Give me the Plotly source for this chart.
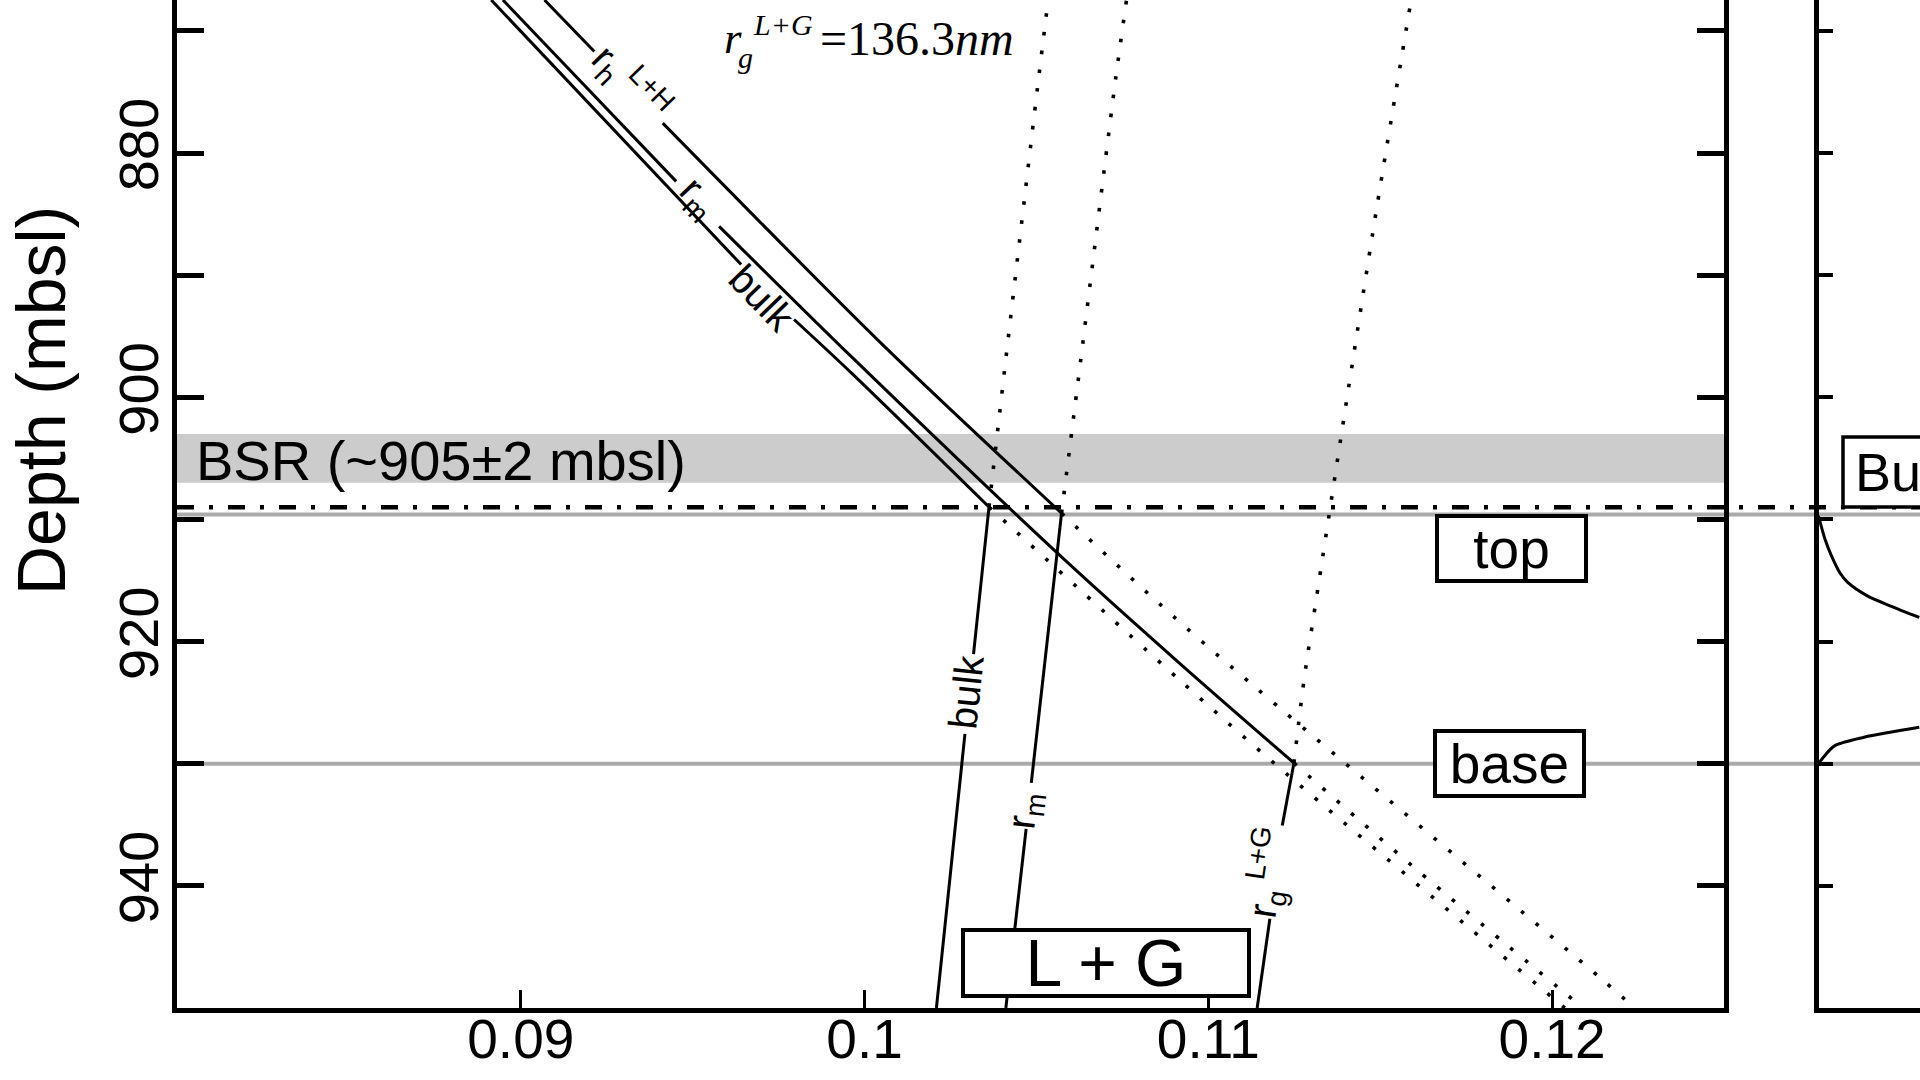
import plotly.graph_objects as go

# ---- values: x = value, d = depth (mbsl) ----
# L+H lines (solid part, None marks the gap where the label sits) and dotted extensions
bulk_lh_x = [0.08914, 0.09641, None, 0.09795, 0.09960, 0.10362]
bulk_lh_d = [867.47, 889.13, None, 893.63, 897.96, 908.98]
bulk_lh_ext_x = [0.10362, 0.10919, 0.11205, 0.12037]
bulk_lh_ext_d = [908.98, 923.21, 930.29, 950.0]

rm_lh_x = [0.08948, 0.09452, None, 0.09577, 0.09970, 0.10580, 0.10919, 0.11249]
rm_lh_d = [867.47, 882.32, None, 886.00, 896.90, 913.25, 921.84, 929.94]
rm_lh_ext_x = [0.11249, 0.11597, 0.12090]
rm_lh_ext_d = [929.94, 938.46, 950.0]

rh_lh_x = [0.09069, 0.09214, None, 0.09413, 0.10047, 0.10573]
rh_lh_d = [867.47, 871.69, None, 877.55, 895.54, 909.49]
rh_lh_ext_x = [0.10573, 0.10940, 0.12135, 0.12240]
rh_lh_ext_d = [909.49, 918.98, 947.41, 950.0]

# L+G lines
bulk_lg_x = [0.10362, 0.10317, None, 0.10292, 0.10209]
bulk_lg_d = [908.98, 921.02, None, 927.56, 950.0]
bulk_lg_ext_x = [0.10362, 0.10408, 0.10503, 0.10534]
bulk_lg_ext_d = [908.98, 897.58, 874.66, 867.47]

rm_lg_x = [0.10573, 0.10485, None, 0.10470, 0.10411]
rm_lg_d = [909.49, 931.57, None, 935.33, 950.0]
rm_lg_ext_x = [0.10573, 0.10629, 0.10730, 0.10762]
rm_lg_ext_d = [909.49, 896.90, 874.01, 867.47]

rg_lg_x = [0.11249, 0.11215, None, 0.11179, 0.11142]
rg_lg_d = [929.94, 935.06, None, 942.69, 950.0]
rg_lg_ext_x = [0.11249, 0.11280, 0.11314, 0.11396, 0.11489, 0.11590]
rg_lg_ext_d = [929.94, 922.80, 916.52, 901.40, 884.64, 867.47]

# right panel curves (only the left edge is visible)
p2_top_x = [0, 0.64, 1.28, 2.09, 2.88, 4.81, 7.05, 9.93]
p2_top_d = [909.7, 911.62, 912.98, 914.34, 915.16, 916.26, 917.07, 918.02]
p2_base_x = [0, 0.48, 1.61, 4.5, 9.93]
p2_base_d = [930.0, 929.47, 928.52, 927.83, 927.02]

# reference depths
bsr_band = [903.0, 907.0]
bsr_line = 909.0
top_depth = 909.6
base_depth = 930.0

x_ticks = [0.09, 0.1, 0.11, 0.12]
x_tick_text = ["0.09", "0.1", "0.11", "0.12"]
d_ticks = [870, 880, 890, 900, 910, 920, 930, 940]
d_tick_text = ["", "880", "", "900", "", "920", "", "940"]

W, H = 1920, 1080
SANS = "Liberation Sans, Arial, sans-serif"
SERIF = "Liberation Serif, Times New Roman, serif"


def P(px, py):
    return px / W, 1 - py / H


fig = go.Figure()


def line(x, y, dotted=False, xa="x", ya="y"):
    fig.add_trace(go.Scatter(
        x=x, y=y, mode="lines", xaxis=xa, yaxis=ya,
        line=dict(color="black", width=3.6 if dotted else 3.0,
                  dash="3.6px,15.4px" if dotted else "solid",
                  shape="spline", smoothing=0.8),
        connectgaps=False, hoverinfo="skip", showlegend=False))


for sx, sy in [(bulk_lh_x, bulk_lh_d), (rm_lh_x, rm_lh_d), (rh_lh_x, rh_lh_d),
               (bulk_lg_x, bulk_lg_d), (rm_lg_x, rm_lg_d), (rg_lg_x, rg_lg_d)]:
    line(sx, sy)
for sx, sy in [(bulk_lh_ext_x, bulk_lh_ext_d), (rm_lh_ext_x, rm_lh_ext_d),
               (rh_lh_ext_x, rh_lh_ext_d), (bulk_lg_ext_x, bulk_lg_ext_d),
               (rm_lg_ext_x, rm_lg_ext_d), (rg_lg_ext_x, rg_lg_ext_d)]:
    line(sx, sy, dotted=True)
line(p2_top_x, p2_top_d, xa="x2", ya="y2")
line(p2_base_x, p2_base_d, xa="x2", ya="y2")

x0 = 177 / W
shapes = [
    dict(type="rect", xref="x", yref="y", x0=0.08, x1=0.125, y0=bsr_band[0], y1=bsr_band[1],
         fillcolor="#cccccc", line=dict(width=0), layer="below"),
    dict(type="line", xref="paper", yref="y", x0=x0, x1=1, y0=top_depth, y1=top_depth,
         line=dict(color="#aaaaaa", width=4), layer="below"),
    dict(type="line", xref="paper", yref="y", x0=x0, x1=1, y0=base_depth, y1=base_depth,
         line=dict(color="#aaaaaa", width=4), layer="below"),
    dict(type="line", xref="paper", yref="y", x0=x0, x1=1, y0=bsr_line, y1=bsr_line,
         line=dict(color="black", width=4.5, dash="17px,15px,4px,15px"), layer="below"),
    dict(type="rect", xref="paper", yref="paper", x0=1843 / W, x1=1.06,
         y0=1 - 507 / H, y1=1 - 437 / H, fillcolor="white",
         line=dict(color="black", width=3.5), layer="above"),
]

ann = []


def text(t, px, py, size, angle=0, font=SANS, xanchor="center", **kw):
    x, y = P(px, py)
    ann.append(dict(text=t, x=x, y=y, xref="paper", yref="paper", showarrow=False,
                    textangle=angle, xanchor=xanchor, yanchor="middle",
                    font=dict(family=font, size=size, color="black"), **kw))


def box(t, px, py, w, h, size):
    text(t, px, py, size, width=w, height=h, bgcolor="white", bordercolor="black",
         borderwidth=4, borderpad=0)


text("Depth (mbsl)", 41, 401, 68, angle=-90)
text("BSR (~905\u00b12 mbsl)", 194, 460, 56, xanchor="left")

# r_g^{L+G} = 136.3nm
text("<i>r</i>", 722, 38, 45, font=SERIF, xanchor="left")
text("<i>g</i>", 736, 57, 30, font=SERIF, xanchor="left")
text("<i>L+G</i>", 751, 24, 30, font=SERIF, xanchor="left")
text("=136.3<i>nm</i>", 818, 38, 48, font=SERIF, xanchor="left")

# labels on the lines
text("r<sub>h</sub><sup> L+H</sup>", 630, 83, 40, angle=46)
text("r<sub>m</sub>", 698, 198, 40, angle=46)
text("bulk", 762, 298, 40, angle=46)
text("bulk", 966, 692, 40, angle=-84)
text("r<sub>m</sub>", 1025, 811, 40, angle=-83.5)
text("r<sub>g</sub><sup> L+G</sup>", 1268, 873, 40, angle=-81.6)

box("top", 1511.5, 548.5, 145, 61, 55)
box("base", 1509.5, 763, 145, 61, 55)
box("L + G", 1106, 963, 282, 62, 66)
text("Bu", 1853, 472, 54, xanchor="left")

axis_common = dict(showgrid=False, zeroline=False, showline=True, linecolor="black",
                   linewidth=5, ticks="inside", tickcolor="black")

fig.update_layout(
    width=W, height=H,
    margin=dict(l=0, r=0, t=0, b=0),
    paper_bgcolor="white", plot_bgcolor="rgba(0,0,0,0)",
    showlegend=False,
    xaxis=dict(domain=[177 / W, 1724 / W], range=[0.08, 0.125], tickvals=x_ticks,
               ticktext=x_tick_text, ticklen=18, tickwidth=3, automargin=False,
               ticklabelstandoff=-21,
               tickfont=dict(family=SANS, size=55, color="black"), **axis_common),
    yaxis=dict(domain=[72 / H, 1], range=[950, 867.47], tickvals=d_ticks,
               ticktext=d_tick_text, ticklen=27, tickwidth=5, mirror="ticks",
               tickangle=-90, automargin=False, ticklabelstandoff=-8,
               tickfont=dict(family=SANS, size=56, color="black"), **axis_common),
    xaxis2=dict(domain=[1818.5 / W, 1], range=[0, 10], anchor="y2", showgrid=False,
                zeroline=False, showline=True, linecolor="black", linewidth=5,
                showticklabels=False, ticks=""),
    yaxis2=dict(domain=[72 / H, 1], range=[950, 867.47], anchor="x2", tickvals=d_ticks,
                ticklen=14, tickwidth=4, showticklabels=False, **axis_common),
    shapes=shapes,
    annotations=ann,
)

fig.write_html("out.html", config={"displayModeBar": False},
               post_script="document.body.style.margin='0';")
